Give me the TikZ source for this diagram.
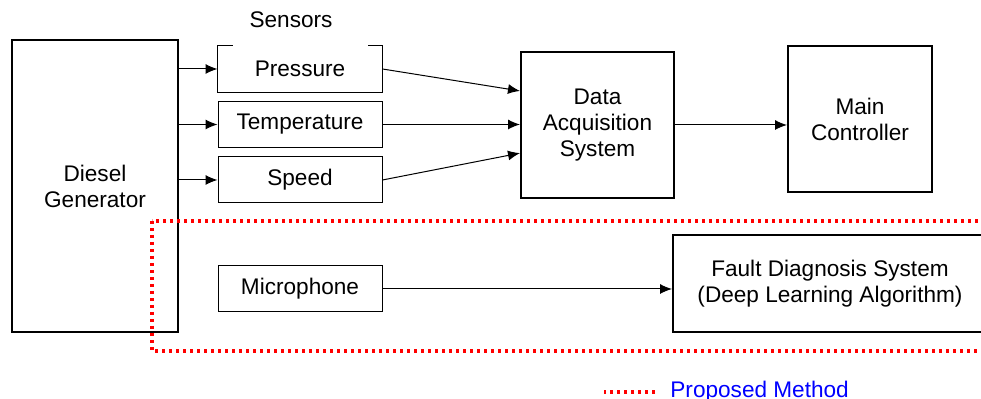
\documentclass[tikz,border=0pt]{standalone}
\usepackage{fontspec}
\setmainfont{Liberation Sans}
\usepackage{xcolor}
\usetikzlibrary{arrows.meta,calc}

\begin{document}
\begin{tikzpicture}[
x=0.5pt,
y=-0.5pt,
every node/.style={font=\fontsize{11.3}{13}\selectfont,align=center,inner sep=0pt},
block/.style={rectangle,draw,line width=1pt},
sensor/.style={rectangle,draw,line width=0.5pt,minimum width=82pt,minimum height=23pt},
arr/.style={-{Latex[length=6pt,width=5pt]},line width=0.5pt},
proposed/.style={draw=red,line width=1.6pt,dash pattern=on 1.6pt off 1.9pt}
]
\clip (0,0) rectangle (981,399);
\node[block,minimum width=83pt,minimum height=146pt] (dg) at (95,186) {Diesel\\Generator};
\node (sensorslbl) at (291,20) {Sensors};
\node[sensor,draw=none] (pressure) at (300,69) {Pressure};
\node[sensor] (temperature) at (300,124.5) {Temperature};
\node[sensor] (speed) at (300,180) {Speed};
\node[sensor] (microphone) at (300,289) {Microphone};
\node[block,minimum width=76.5pt,minimum height=73pt] (daq) at (597.5,125) {Data\\Acquisition\\System};
\node[block,minimum width=72pt,minimum height=73pt] (mainctrl) at (860,119) {Main\\Controller};
\node[block,minimum width=157pt,minimum height=48.5pt] (fds) at (830,283.5) {Fault Diagnosis System\\(Deep Learning Algorithm)};
\node[anchor=west,text=blue] (legend) at (670,392) {Proposed Method};

% pressure box, top edge left open
\draw[line width=0.5pt] ([xshift=7.5pt]pressure.north west) -| (pressure.south west) -| (pressure.north east) -- ++(-7.5pt,0);

% proposed method frame
\draw[proposed] (152,221) rectangle (995,351);
\draw[proposed] ([xshift=-7.5pt]legend.west) -- ++(-25.5pt,0);

\draw[arr] (dg.east |- pressure) -- (pressure);
\draw[arr] (dg.east |- temperature) -- (temperature);
\draw[arr] (dg.east |- speed) -- (speed);
\draw[arr] (pressure.east) -- ($(daq.north west)!0.27!(daq.south west)$);
\draw[arr] (temperature.east) -- (temperature.east -| daq.west);
\draw[arr] (speed.east) -- ($(daq.north west)!0.69!(daq.south west)$);
\draw[arr] (daq.east) -- (daq.east -| mainctrl.west);
\draw[arr] (microphone.east) -- (microphone.east -| fds.west);
\end{tikzpicture}
\end{document}
